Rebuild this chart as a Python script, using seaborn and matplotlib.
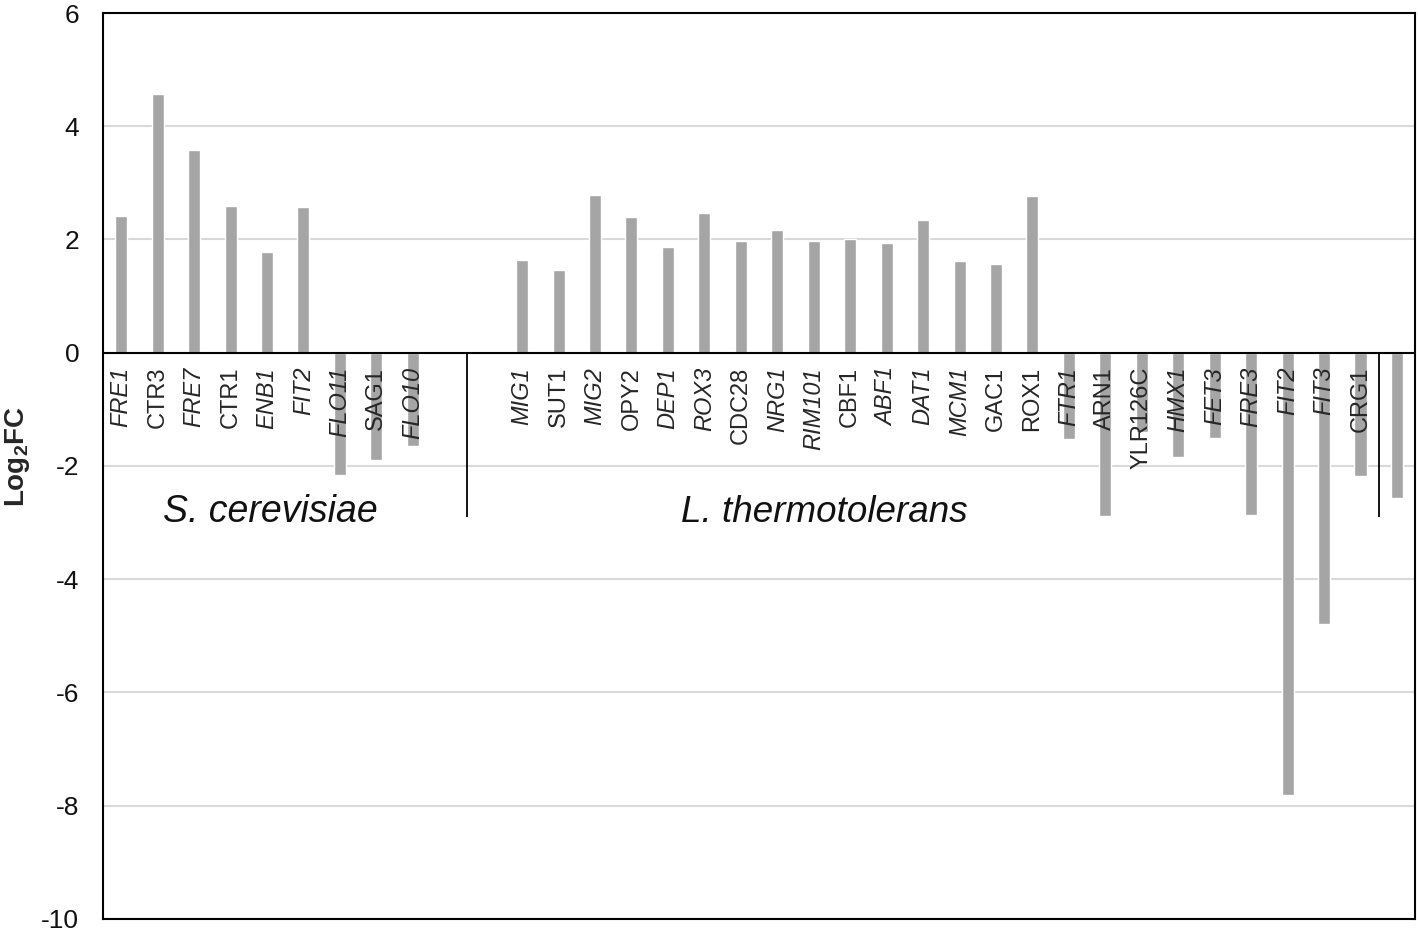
import matplotlib
matplotlib.use("Agg")
import matplotlib.pyplot as plt
import numpy as np
import pandas as pd
import seaborn as sns

# S. cerevisiae genes
sc_genes = ["FRE1", "CTR3", "FRE7", "CTR1", "ENB1", "FIT2", "FLO11", "SAG1", "FLO10"]
sc_logfc = [2.42, 4.57, 3.58, 2.60, 1.78, 2.58, -2.16, -1.90, -1.65]

# L. thermotolerans genes
lt_genes = ["MIG1", "SUT1", "MIG2", "OPY2", "DEP1", "ROX3", "CDC28", "NRG1",
            "RIM101", "CBF1", "ABF1", "DAT1", "MCM1", "GAC1", "ROX1", "FTR1",
            "ARN1", "YLR126C", "HMX1", "FET3", "FRE3", "FIT2", "FIT3", "CRG1"]
lt_logfc = [1.64, 1.46, 2.79, 2.39, 1.86, 2.47, 1.97, 2.17,
            1.97, 2.01, 1.94, 2.34, 1.62, 1.57, 2.76, -1.52,
            -2.88, -1.40, -1.85, -1.50, -2.86, -7.82, -4.80, -2.17]

# trailing bar without a label
extra_logfc = [-2.57]

# gene names written upright; all others italic
upright = {"CTR3", "CTR1", "SAG1", "SUT1", "OPY2", "CDC28", "CBF1", "GAC1",
           "ROX1", "ARN1", "YLR126C", "CRG1"}

sns.set_theme(style="white")
plt.rcParams["font.family"] = ["Liberation Sans", "DejaVu Sans"]
plt.rcParams["mathtext.fontset"] = "custom"
plt.rcParams["mathtext.bf"] = "Liberation Sans:bold"
plt.rcParams["mathtext.rm"] = "Liberation Sans"
plt.rcParams["axes.unicode_minus"] = False

# one slot per bar, two empty slots between species
sc_keys = [f"sc_{g}" for g in sc_genes]
lt_keys = [f"lt_{g}" for g in lt_genes]
extra_keys = ["extra"]
order = sc_keys + ["gap1", "gap2"] + lt_keys + extra_keys
labels = sc_genes + ["", ""] + lt_genes + [""]

df = pd.DataFrame({
    "slot": sc_keys + lt_keys + extra_keys,
    "logfc": sc_logfc + lt_logfc + extra_logfc,
})

fig = plt.figure(figsize=(14.18, 9.31), dpi=100)
ax = fig.add_axes([0.0726, 0.013, 0.9254, 0.973])

ax.set_axisbelow(True)
ax.yaxis.grid(True, color="#d9d9d9", lw=1.5)
sns.barplot(data=df, x="slot", y="logfc", order=order, color="#a5a5a5",
            saturation=1, width=0.33, errorbar=None, ax=ax)

ax.set_ylim(-10, 6)
ax.set_yticks(np.arange(-10, 7, 2))
ax.set_xlim(-0.5, len(order) - 0.5)
ax.set_xticks([])
ax.set_xlabel("")
ax.axhline(0, color="black", lw=1.5)
for s in ax.spines.values():
    s.set_color("black")
    s.set_linewidth(1.5)
ax.tick_params(axis="y", length=0, pad=17, labelsize=19, labelcolor="#111111")
ax.set_ylabel(r"Log$_{\mathbf{2}}$FC", fontsize=20, fontweight="bold")
ax.yaxis.set_label_coords(-0.054, 0.51)

for i, lab in enumerate(labels):
    if not lab:
        continue
    ax.text(i, -0.25, lab, rotation=90, ha="center", va="top", fontsize=17,
            color="#262626", style="normal" if lab in upright else "italic")

# species separators and group names
ax.vlines([9.5, 34.5], -2.9, 0, color="black", lw=1.3)
ax.text(4.1, -2.82, "S. cerevisiae", ha="center", va="center", fontsize=27,
        style="italic", color="#111111")
ax.text(19.3, -2.82, "L. thermotolerans", ha="center", va="center", fontsize=26.5,
        style="italic", color="#111111")

fig.savefig("out.png", dpi=100)
